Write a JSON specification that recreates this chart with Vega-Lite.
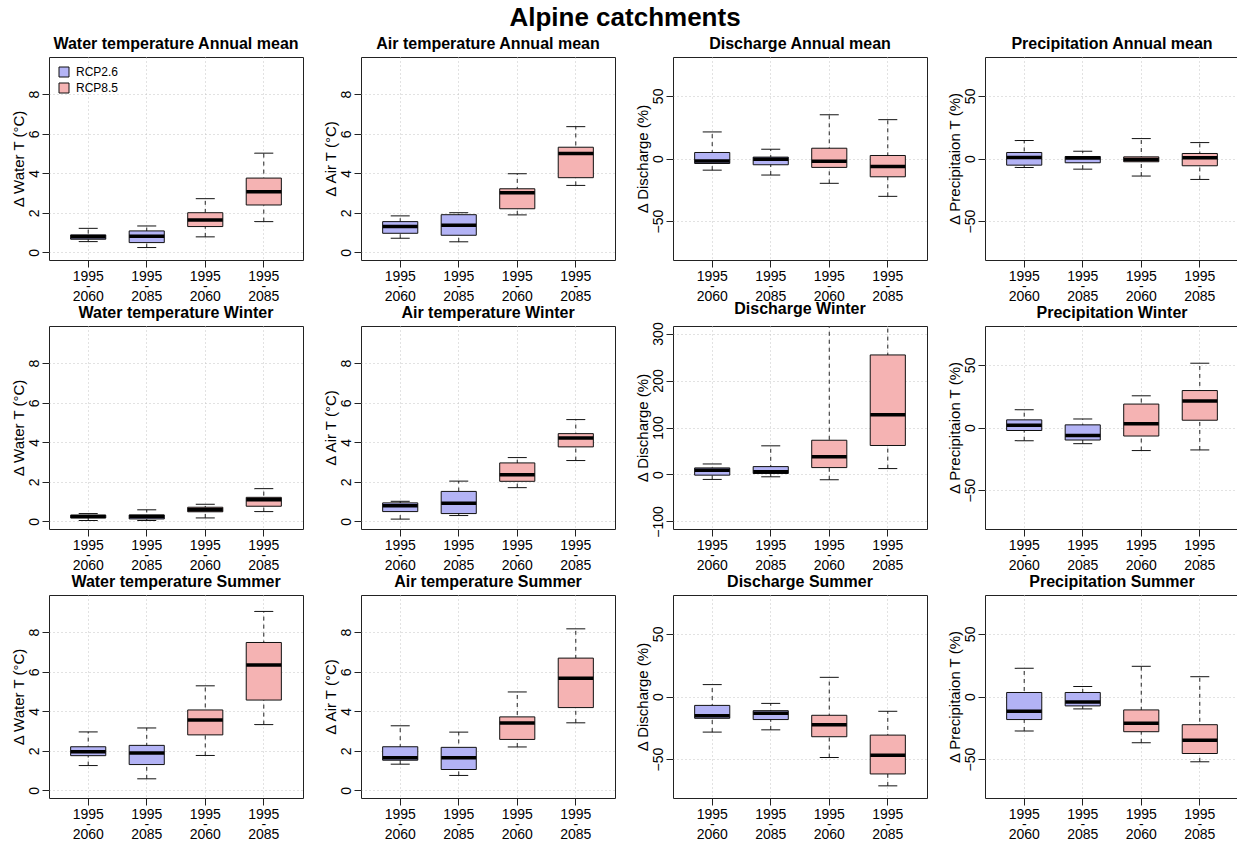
{
"$schema": "https://vega.github.io/schema/vega-lite/v6.json",
"padding": {"left": 10, "top": 4, "right": 0, "bottom": 0},
"title": {"text": "Alpine catchments", "fontSize": 26, "fontWeight": "bold", "anchor": "middle", "offset": 5},
"data": {"values": [
{"p":"Water temperature Annual mean","g":"RCP2.6 1995-2060","s":"RCP2.6","lo":0.55,"q1":0.67,"med":0.80,"q3":0.89,"hi":1.22},
{"p":"Water temperature Annual mean","g":"RCP2.6 1995-2085","s":"RCP2.6","lo":0.25,"q1":0.50,"med":0.82,"q3":1.09,"hi":1.34},
{"p":"Water temperature Annual mean","g":"RCP8.5 1995-2060","s":"RCP8.5","lo":0.79,"q1":1.31,"med":1.64,"q3":2.01,"hi":2.72},
{"p":"Water temperature Annual mean","g":"RCP8.5 1995-2085","s":"RCP8.5","lo":1.56,"q1":2.40,"med":3.07,"q3":3.76,"hi":5.02},
{"p":"Air temperature Annual mean","g":"RCP2.6 1995-2060","s":"RCP2.6","lo":0.72,"q1":0.97,"med":1.31,"q3":1.56,"hi":1.85},
{"p":"Air temperature Annual mean","g":"RCP2.6 1995-2085","s":"RCP2.6","lo":0.54,"q1":0.87,"med":1.38,"q3":1.91,"hi":2.01},
{"p":"Air temperature Annual mean","g":"RCP8.5 1995-2060","s":"RCP8.5","lo":1.90,"q1":2.21,"med":3.02,"q3":3.22,"hi":3.98},
{"p":"Air temperature Annual mean","g":"RCP8.5 1995-2085","s":"RCP8.5","lo":3.39,"q1":3.78,"med":5.00,"q3":5.32,"hi":6.36},
{"p":"Discharge Annual mean","g":"RCP2.6 1995-2060","s":"RCP2.6","lo":-9.3,"q1":-4.0,"med":-1.9,"q3":4.8,"hi":21.2},
{"p":"Discharge Annual mean","g":"RCP2.6 1995-2085","s":"RCP2.6","lo":-13.2,"q1":-5.0,"med":-0.5,"q3":1.1,"hi":7.4},
{"p":"Discharge Annual mean","g":"RCP8.5 1995-2060","s":"RCP8.5","lo":-19.8,"q1":-7.1,"med":-2.1,"q3":8.2,"hi":34.9},
{"p":"Discharge Annual mean","g":"RCP8.5 1995-2085","s":"RCP8.5","lo":-30.2,"q1":-14.6,"med":-6.3,"q3":2.4,"hi":31.0},
{"p":"Precipitation Annual mean","g":"RCP2.6 1995-2060","s":"RCP2.6","lo":-7.1,"q1":-5.3,"med":0.8,"q3":4.8,"hi":14.3},
{"p":"Precipitation Annual mean","g":"RCP2.6 1995-2085","s":"RCP2.6","lo":-8.5,"q1":-3.4,"med":0.3,"q3":1.6,"hi":5.8},
{"p":"Precipitation Annual mean","g":"RCP8.5 1995-2060","s":"RCP8.5","lo":-14.0,"q1":-2.6,"med":-0.8,"q3":1.3,"hi":15.9},
{"p":"Precipitation Annual mean","g":"RCP8.5 1995-2085","s":"RCP8.5","lo":-16.7,"q1":-5.8,"med":0.5,"q3":4.0,"hi":12.7},
{"p":"Water temperature Winter","g":"RCP2.6 1995-2060","s":"RCP2.6","lo":0.05,"q1":0.18,"med":0.25,"q3":0.32,"hi":0.40},
{"p":"Water temperature Winter","g":"RCP2.6 1995-2085","s":"RCP2.6","lo":0.05,"q1":0.13,"med":0.25,"q3":0.33,"hi":0.59},
{"p":"Water temperature Winter","g":"RCP8.5 1995-2060","s":"RCP8.5","lo":0.18,"q1":0.49,"med":0.59,"q3":0.72,"hi":0.87},
{"p":"Water temperature Winter","g":"RCP8.5 1995-2085","s":"RCP8.5","lo":0.50,"q1":0.77,"med":1.10,"q3":1.22,"hi":1.66},
{"p":"Air temperature Winter","g":"RCP2.6 1995-2060","s":"RCP2.6","lo":0.12,"q1":0.50,"med":0.80,"q3":0.94,"hi":1.02},
{"p":"Air temperature Winter","g":"RCP2.6 1995-2085","s":"RCP2.6","lo":0.30,"q1":0.40,"med":0.92,"q3":1.52,"hi":2.04},
{"p":"Air temperature Winter","g":"RCP8.5 1995-2060","s":"RCP8.5","lo":1.71,"q1":2.03,"med":2.36,"q3":2.96,"hi":3.23},
{"p":"Air temperature Winter","g":"RCP8.5 1995-2085","s":"RCP8.5","lo":3.08,"q1":3.77,"med":4.22,"q3":4.44,"hi":5.15},
{"p":"Discharge Winter","g":"RCP2.6 1995-2060","s":"RCP2.6","lo":-10.5,"q1":-1.4,"med":9.1,"q3":14.0,"hi":22.4},
{"p":"Discharge Winter","g":"RCP2.6 1995-2085","s":"RCP2.6","lo":-4.9,"q1":2.1,"med":5.6,"q3":16.8,"hi":61},
{"p":"Discharge Winter","g":"RCP8.5 1995-2060","s":"RCP8.5","lo":-11.2,"q1":14.7,"med":37.8,"q3":72.9,"hi":420},
{"p":"Discharge Winter","g":"RCP8.5 1995-2085","s":"RCP8.5","lo":12.6,"q1":61.7,"med":126.9,"q3":254.4,"hi":380},
{"p":"Precipitation Winter","g":"RCP2.6 1995-2060","s":"RCP2.6","lo":-10.5,"q1":-2.4,"med":1.8,"q3":6.1,"hi":14.2},
{"p":"Precipitation Winter","g":"RCP2.6 1995-2085","s":"RCP2.6","lo":-12.9,"q1":-10.0,"med":-6.3,"q3":2.1,"hi":6.8},
{"p":"Precipitation Winter","g":"RCP8.5 1995-2060","s":"RCP8.5","lo":-18.4,"q1":-6.8,"med":2.9,"q3":18.7,"hi":25.3},
{"p":"Precipitation Winter","g":"RCP8.5 1995-2085","s":"RCP8.5","lo":-17.9,"q1":5.8,"med":21.1,"q3":29.5,"hi":51.3},
{"p":"Water temperature Summer","g":"RCP2.6 1995-2060","s":"RCP2.6","lo":1.26,"q1":1.76,"med":1.96,"q3":2.21,"hi":2.96},
{"p":"Water temperature Summer","g":"RCP2.6 1995-2085","s":"RCP2.6","lo":0.59,"q1":1.31,"med":1.89,"q3":2.28,"hi":3.16},
{"p":"Water temperature Summer","g":"RCP8.5 1995-2060","s":"RCP8.5","lo":1.77,"q1":2.81,"med":3.56,"q3":4.07,"hi":5.29},
{"p":"Water temperature Summer","g":"RCP8.5 1995-2085","s":"RCP8.5","lo":3.33,"q1":4.57,"med":6.34,"q3":7.48,"hi":9.05},
{"p":"Air temperature Summer","g":"RCP2.6 1995-2060","s":"RCP2.6","lo":1.33,"q1":1.53,"med":1.66,"q3":2.21,"hi":3.27},
{"p":"Air temperature Summer","g":"RCP2.6 1995-2085","s":"RCP2.6","lo":0.76,"q1":1.06,"med":1.66,"q3":2.18,"hi":2.95},
{"p":"Air temperature Summer","g":"RCP8.5 1995-2060","s":"RCP8.5","lo":2.20,"q1":2.58,"med":3.41,"q3":3.72,"hi":4.98},
{"p":"Air temperature Summer","g":"RCP8.5 1995-2085","s":"RCP8.5","lo":3.42,"q1":4.19,"med":5.67,"q3":6.69,"hi":8.17},
{"p":"Discharge Summer","g":"RCP2.6 1995-2060","s":"RCP2.6","lo":-28.4,"q1":-17.4,"med":-15.3,"q3":-7.1,"hi":9.5},
{"p":"Discharge Summer","g":"RCP2.6 1995-2085","s":"RCP2.6","lo":-26.6,"q1":-18.4,"med":-13.4,"q3":-11.3,"hi":-5.5},
{"p":"Discharge Summer","g":"RCP8.5 1995-2060","s":"RCP8.5","lo":-48.7,"q1":-32.1,"med":-22.6,"q3":-15.0,"hi":15.3},
{"p":"Discharge Summer","g":"RCP8.5 1995-2085","s":"RCP8.5","lo":-71.3,"q1":-61.8,"med":-46.8,"q3":-30.8,"hi":-11.8},
{"p":"Precipitation Summer","g":"RCP2.6 1995-2060","s":"RCP2.6","lo":-27.5,"q1":-18.4,"med":-11.8,"q3":3.2,"hi":22.5},
{"p":"Precipitation Summer","g":"RCP2.6 1995-2085","s":"RCP2.6","lo":-9.9,"q1":-7.5,"med":-4.3,"q3":3.2,"hi":8.0},
{"p":"Precipitation Summer","g":"RCP8.5 1995-2060","s":"RCP8.5","lo":-36.9,"q1":-28.1,"med":-21.4,"q3":-10.7,"hi":24.1},
{"p":"Precipitation Summer","g":"RCP8.5 1995-2085","s":"RCP8.5","lo":-52.1,"q1":-45.5,"med":-35.0,"q3":-22.5,"hi":15.8}
]},
"columns": 4,
"bounds": "flush",
"spacing": {"row": 66, "column": 58},
"resolve": {"scale": {"fill": "independent"}, "legend": {"fill": "independent"}},
"concat": [
{"title": "Water temperature Annual mean", "width": 254, "height": 203,
 "transform": [{"filter": {"field": "p", "equal": "Water temperature Annual mean"}}],
 "encoding": {"x": {"field": "g", "type": "nominal", "title": null, "sort": ["RCP2.6 1995-2060","RCP2.6 1995-2085","RCP8.5 1995-2060","RCP8.5 1995-2085"], "scale": {"paddingInner": 0.4, "paddingOuter": 0.37}, "axis": {"labelExpr": "['1995', '-', slice(datum.value, -4)]"}}},
 "layer": [
  {"mark": {"type": "rule", "strokeDash": [4, 4], "color": "#222", "clip": true}, "encoding": {"y": {"field": "lo", "type": "quantitative", "scale": {"domain": [-0.38, 9.88], "nice": false, "zero": false}, "axis": {"title": "Δ Water T (°C)", "values": [0, 2, 4, 6, 8]}}, "y2": {"field": "hi"}}},
  {"mark": {"type": "tick", "size": 19, "thickness": 1, "color": "#111", "opacity": 1, "clip": true}, "encoding": {"y": {"field": "lo", "type": "quantitative", "scale": {"domain": [-0.38, 9.88], "nice": false, "zero": false}}}},
  {"mark": {"type": "tick", "size": 19, "thickness": 1, "color": "#111", "opacity": 1, "clip": true}, "encoding": {"y": {"field": "hi", "type": "quantitative", "scale": {"domain": [-0.38, 9.88], "nice": false, "zero": false}}}},
  {"mark": {"type": "bar", "stroke": "#111", "strokeWidth": 1, "opacity": 1}, "encoding": {"y": {"field": "q1", "type": "quantitative", "scale": {"domain": [-0.38, 9.88], "nice": false, "zero": false}}, "y2": {"field": "q3"}, "fill": {"field": "s", "type": "nominal", "scale": {"domain": ["RCP2.6", "RCP8.5"], "range": ["#b3b3f5", "#f5b3b3"]}, "legend": {"orient": "top-left", "title": null, "symbolType": "square", "symbolSize": 100, "symbolStrokeColor": "#111", "symbolStrokeWidth": 1, "symbolOpacity": 1, "labelFontSize": 12, "offset": 9, "padding": 0, "rowPadding": 2, "labelOffset": 6}}}},
  {"mark": {"type": "tick", "size": 35, "thickness": 3.5, "color": "#000", "opacity": 1}, "encoding": {"y": {"field": "med", "type": "quantitative", "scale": {"domain": [-0.38, 9.88], "nice": false, "zero": false}}}}
 ]},
{"title": "Air temperature Annual mean", "width": 254, "height": 203,
 "transform": [{"filter": {"field": "p", "equal": "Air temperature Annual mean"}}],
 "encoding": {"x": {"field": "g", "type": "nominal", "title": null, "sort": ["RCP2.6 1995-2060","RCP2.6 1995-2085","RCP8.5 1995-2060","RCP8.5 1995-2085"], "scale": {"paddingInner": 0.4, "paddingOuter": 0.37}, "axis": {"labelExpr": "['1995', '-', slice(datum.value, -4)]"}}},
 "layer": [
  {"mark": {"type": "rule", "strokeDash": [4, 4], "color": "#222", "clip": true}, "encoding": {"y": {"field": "lo", "type": "quantitative", "scale": {"domain": [-0.38, 9.88], "nice": false, "zero": false}, "axis": {"title": "Δ Air T (°C)", "values": [0, 2, 4, 6, 8]}}, "y2": {"field": "hi"}}},
  {"mark": {"type": "tick", "size": 19, "thickness": 1, "color": "#111", "opacity": 1, "clip": true}, "encoding": {"y": {"field": "lo", "type": "quantitative", "scale": {"domain": [-0.38, 9.88], "nice": false, "zero": false}}}},
  {"mark": {"type": "tick", "size": 19, "thickness": 1, "color": "#111", "opacity": 1, "clip": true}, "encoding": {"y": {"field": "hi", "type": "quantitative", "scale": {"domain": [-0.38, 9.88], "nice": false, "zero": false}}}},
  {"mark": {"type": "bar", "stroke": "#111", "strokeWidth": 1, "opacity": 1}, "encoding": {"y": {"field": "q1", "type": "quantitative", "scale": {"domain": [-0.38, 9.88], "nice": false, "zero": false}}, "y2": {"field": "q3"}, "fill": {"field": "s", "type": "nominal", "scale": {"domain": ["RCP2.6", "RCP8.5"], "range": ["#b3b3f5", "#f5b3b3"]}, "legend": null}}},
  {"mark": {"type": "tick", "size": 35, "thickness": 3.5, "color": "#000", "opacity": 1}, "encoding": {"y": {"field": "med", "type": "quantitative", "scale": {"domain": [-0.38, 9.88], "nice": false, "zero": false}}}}
 ]},
{"title": "Discharge Annual mean", "width": 254, "height": 203,
 "transform": [{"filter": {"field": "p", "equal": "Discharge Annual mean"}}],
 "encoding": {"x": {"field": "g", "type": "nominal", "title": null, "sort": ["RCP2.6 1995-2060","RCP2.6 1995-2085","RCP8.5 1995-2060","RCP8.5 1995-2085"], "scale": {"paddingInner": 0.4, "paddingOuter": 0.37}, "axis": {"labelExpr": "['1995', '-', slice(datum.value, -4)]"}}},
 "layer": [
  {"mark": {"type": "rule", "strokeDash": [4, 4], "color": "#222", "clip": true}, "encoding": {"y": {"field": "lo", "type": "quantitative", "scale": {"domain": [-81, 81], "nice": false, "zero": false}, "axis": {"title": "Δ Discharge (%)", "values": [-50, 0, 50]}}, "y2": {"field": "hi"}}},
  {"mark": {"type": "tick", "size": 19, "thickness": 1, "color": "#111", "opacity": 1, "clip": true}, "encoding": {"y": {"field": "lo", "type": "quantitative", "scale": {"domain": [-81, 81], "nice": false, "zero": false}}}},
  {"mark": {"type": "tick", "size": 19, "thickness": 1, "color": "#111", "opacity": 1, "clip": true}, "encoding": {"y": {"field": "hi", "type": "quantitative", "scale": {"domain": [-81, 81], "nice": false, "zero": false}}}},
  {"mark": {"type": "bar", "stroke": "#111", "strokeWidth": 1, "opacity": 1}, "encoding": {"y": {"field": "q1", "type": "quantitative", "scale": {"domain": [-81, 81], "nice": false, "zero": false}}, "y2": {"field": "q3"}, "fill": {"field": "s", "type": "nominal", "scale": {"domain": ["RCP2.6", "RCP8.5"], "range": ["#b3b3f5", "#f5b3b3"]}, "legend": null}}},
  {"mark": {"type": "rule", "color": "#222", "strokeWidth": 1.2}, "encoding": {"y": {"datum": 0, "type": "quantitative", "scale": {"domain": [-81, 81], "nice": false, "zero": false}}}},
  {"mark": {"type": "tick", "size": 35, "thickness": 3.5, "color": "#000", "opacity": 1}, "encoding": {"y": {"field": "med", "type": "quantitative", "scale": {"domain": [-81, 81], "nice": false, "zero": false}}}}
 ]},
{"title": "Precipitation Annual mean", "width": 254, "height": 203,
 "transform": [{"filter": {"field": "p", "equal": "Precipitation Annual mean"}}],
 "encoding": {"x": {"field": "g", "type": "nominal", "title": null, "sort": ["RCP2.6 1995-2060","RCP2.6 1995-2085","RCP8.5 1995-2060","RCP8.5 1995-2085"], "scale": {"paddingInner": 0.4, "paddingOuter": 0.37}, "axis": {"labelExpr": "['1995', '-', slice(datum.value, -4)]"}}},
 "layer": [
  {"mark": {"type": "rule", "strokeDash": [4, 4], "color": "#222", "clip": true}, "encoding": {"y": {"field": "lo", "type": "quantitative", "scale": {"domain": [-81, 81], "nice": false, "zero": false}, "axis": {"title": "Δ Precipitaion T (%)", "values": [-50, 0, 50]}}, "y2": {"field": "hi"}}},
  {"mark": {"type": "tick", "size": 19, "thickness": 1, "color": "#111", "opacity": 1, "clip": true}, "encoding": {"y": {"field": "lo", "type": "quantitative", "scale": {"domain": [-81, 81], "nice": false, "zero": false}}}},
  {"mark": {"type": "tick", "size": 19, "thickness": 1, "color": "#111", "opacity": 1, "clip": true}, "encoding": {"y": {"field": "hi", "type": "quantitative", "scale": {"domain": [-81, 81], "nice": false, "zero": false}}}},
  {"mark": {"type": "bar", "stroke": "#111", "strokeWidth": 1, "opacity": 1}, "encoding": {"y": {"field": "q1", "type": "quantitative", "scale": {"domain": [-81, 81], "nice": false, "zero": false}}, "y2": {"field": "q3"}, "fill": {"field": "s", "type": "nominal", "scale": {"domain": ["RCP2.6", "RCP8.5"], "range": ["#b3b3f5", "#f5b3b3"]}, "legend": null}}},
  {"mark": {"type": "rule", "color": "#222", "strokeWidth": 1.2}, "encoding": {"y": {"datum": 0, "type": "quantitative", "scale": {"domain": [-81, 81], "nice": false, "zero": false}}}},
  {"mark": {"type": "tick", "size": 35, "thickness": 3.5, "color": "#000", "opacity": 1}, "encoding": {"y": {"field": "med", "type": "quantitative", "scale": {"domain": [-81, 81], "nice": false, "zero": false}}}}
 ]},
{"title": "Water temperature Winter", "width": 254, "height": 203,
 "transform": [{"filter": {"field": "p", "equal": "Water temperature Winter"}}],
 "encoding": {"x": {"field": "g", "type": "nominal", "title": null, "sort": ["RCP2.6 1995-2060","RCP2.6 1995-2085","RCP8.5 1995-2060","RCP8.5 1995-2085"], "scale": {"paddingInner": 0.4, "paddingOuter": 0.37}, "axis": {"labelExpr": "['1995', '-', slice(datum.value, -4)]"}}},
 "layer": [
  {"mark": {"type": "rule", "strokeDash": [4, 4], "color": "#222", "clip": true}, "encoding": {"y": {"field": "lo", "type": "quantitative", "scale": {"domain": [-0.38, 9.88], "nice": false, "zero": false}, "axis": {"title": "Δ Water T (°C)", "values": [0, 2, 4, 6, 8]}}, "y2": {"field": "hi"}}},
  {"mark": {"type": "tick", "size": 19, "thickness": 1, "color": "#111", "opacity": 1, "clip": true}, "encoding": {"y": {"field": "lo", "type": "quantitative", "scale": {"domain": [-0.38, 9.88], "nice": false, "zero": false}}}},
  {"mark": {"type": "tick", "size": 19, "thickness": 1, "color": "#111", "opacity": 1, "clip": true}, "encoding": {"y": {"field": "hi", "type": "quantitative", "scale": {"domain": [-0.38, 9.88], "nice": false, "zero": false}}}},
  {"mark": {"type": "bar", "stroke": "#111", "strokeWidth": 1, "opacity": 1}, "encoding": {"y": {"field": "q1", "type": "quantitative", "scale": {"domain": [-0.38, 9.88], "nice": false, "zero": false}}, "y2": {"field": "q3"}, "fill": {"field": "s", "type": "nominal", "scale": {"domain": ["RCP2.6", "RCP8.5"], "range": ["#b3b3f5", "#f5b3b3"]}, "legend": null}}},
  {"mark": {"type": "tick", "size": 35, "thickness": 3.5, "color": "#000", "opacity": 1}, "encoding": {"y": {"field": "med", "type": "quantitative", "scale": {"domain": [-0.38, 9.88], "nice": false, "zero": false}}}}
 ]},
{"title": "Air temperature Winter", "width": 254, "height": 203,
 "transform": [{"filter": {"field": "p", "equal": "Air temperature Winter"}}],
 "encoding": {"x": {"field": "g", "type": "nominal", "title": null, "sort": ["RCP2.6 1995-2060","RCP2.6 1995-2085","RCP8.5 1995-2060","RCP8.5 1995-2085"], "scale": {"paddingInner": 0.4, "paddingOuter": 0.37}, "axis": {"labelExpr": "['1995', '-', slice(datum.value, -4)]"}}},
 "layer": [
  {"mark": {"type": "rule", "strokeDash": [4, 4], "color": "#222", "clip": true}, "encoding": {"y": {"field": "lo", "type": "quantitative", "scale": {"domain": [-0.38, 9.88], "nice": false, "zero": false}, "axis": {"title": "Δ Air T (°C)", "values": [0, 2, 4, 6, 8]}}, "y2": {"field": "hi"}}},
  {"mark": {"type": "tick", "size": 19, "thickness": 1, "color": "#111", "opacity": 1, "clip": true}, "encoding": {"y": {"field": "lo", "type": "quantitative", "scale": {"domain": [-0.38, 9.88], "nice": false, "zero": false}}}},
  {"mark": {"type": "tick", "size": 19, "thickness": 1, "color": "#111", "opacity": 1, "clip": true}, "encoding": {"y": {"field": "hi", "type": "quantitative", "scale": {"domain": [-0.38, 9.88], "nice": false, "zero": false}}}},
  {"mark": {"type": "bar", "stroke": "#111", "strokeWidth": 1, "opacity": 1}, "encoding": {"y": {"field": "q1", "type": "quantitative", "scale": {"domain": [-0.38, 9.88], "nice": false, "zero": false}}, "y2": {"field": "q3"}, "fill": {"field": "s", "type": "nominal", "scale": {"domain": ["RCP2.6", "RCP8.5"], "range": ["#b3b3f5", "#f5b3b3"]}, "legend": null}}},
  {"mark": {"type": "tick", "size": 35, "thickness": 3.5, "color": "#000", "opacity": 1}, "encoding": {"y": {"field": "med", "type": "quantitative", "scale": {"domain": [-0.38, 9.88], "nice": false, "zero": false}}}}
 ]},
{"title": "Discharge Winter", "width": 254, "height": 203,
 "transform": [{"filter": {"field": "p", "equal": "Discharge Winter"}}],
 "encoding": {"x": {"field": "g", "type": "nominal", "title": null, "sort": ["RCP2.6 1995-2060","RCP2.6 1995-2085","RCP8.5 1995-2060","RCP8.5 1995-2085"], "scale": {"paddingInner": 0.4, "paddingOuter": 0.37}, "axis": {"labelExpr": "['1995', '-', slice(datum.value, -4)]"}}},
 "layer": [
  {"mark": {"type": "rule", "strokeDash": [4, 4], "color": "#222", "clip": true}, "encoding": {"y": {"field": "lo", "type": "quantitative", "scale": {"domain": [-116, 316], "nice": false, "zero": false}, "axis": {"title": "Δ Discharge (%)", "values": [-100, 0, 100, 200, 300]}}, "y2": {"field": "hi"}}},
  {"mark": {"type": "tick", "size": 19, "thickness": 1, "color": "#111", "opacity": 1, "clip": true}, "encoding": {"y": {"field": "lo", "type": "quantitative", "scale": {"domain": [-116, 316], "nice": false, "zero": false}}}},
  {"mark": {"type": "tick", "size": 19, "thickness": 1, "color": "#111", "opacity": 1, "clip": true}, "encoding": {"y": {"field": "hi", "type": "quantitative", "scale": {"domain": [-116, 316], "nice": false, "zero": false}}}},
  {"mark": {"type": "bar", "stroke": "#111", "strokeWidth": 1, "opacity": 1}, "encoding": {"y": {"field": "q1", "type": "quantitative", "scale": {"domain": [-116, 316], "nice": false, "zero": false}}, "y2": {"field": "q3"}, "fill": {"field": "s", "type": "nominal", "scale": {"domain": ["RCP2.6", "RCP8.5"], "range": ["#b3b3f5", "#f5b3b3"]}, "legend": null}}},
  {"mark": {"type": "rule", "color": "#222", "strokeWidth": 1.2}, "encoding": {"y": {"datum": 0, "type": "quantitative", "scale": {"domain": [-116, 316], "nice": false, "zero": false}}}},
  {"mark": {"type": "tick", "size": 35, "thickness": 3.5, "color": "#000", "opacity": 1}, "encoding": {"y": {"field": "med", "type": "quantitative", "scale": {"domain": [-116, 316], "nice": false, "zero": false}}}}
 ]},
{"title": "Precipitation Winter", "width": 254, "height": 203,
 "transform": [{"filter": {"field": "p", "equal": "Precipitation Winter"}}],
 "encoding": {"x": {"field": "g", "type": "nominal", "title": null, "sort": ["RCP2.6 1995-2060","RCP2.6 1995-2085","RCP8.5 1995-2060","RCP8.5 1995-2085"], "scale": {"paddingInner": 0.4, "paddingOuter": 0.37}, "axis": {"labelExpr": "['1995', '-', slice(datum.value, -4)]"}}},
 "layer": [
  {"mark": {"type": "rule", "strokeDash": [4, 4], "color": "#222", "clip": true}, "encoding": {"y": {"field": "lo", "type": "quantitative", "scale": {"domain": [-81, 81], "nice": false, "zero": false}, "axis": {"title": "Δ Precipitaion T (%)", "values": [-50, 0, 50]}}, "y2": {"field": "hi"}}},
  {"mark": {"type": "tick", "size": 19, "thickness": 1, "color": "#111", "opacity": 1, "clip": true}, "encoding": {"y": {"field": "lo", "type": "quantitative", "scale": {"domain": [-81, 81], "nice": false, "zero": false}}}},
  {"mark": {"type": "tick", "size": 19, "thickness": 1, "color": "#111", "opacity": 1, "clip": true}, "encoding": {"y": {"field": "hi", "type": "quantitative", "scale": {"domain": [-81, 81], "nice": false, "zero": false}}}},
  {"mark": {"type": "bar", "stroke": "#111", "strokeWidth": 1, "opacity": 1}, "encoding": {"y": {"field": "q1", "type": "quantitative", "scale": {"domain": [-81, 81], "nice": false, "zero": false}}, "y2": {"field": "q3"}, "fill": {"field": "s", "type": "nominal", "scale": {"domain": ["RCP2.6", "RCP8.5"], "range": ["#b3b3f5", "#f5b3b3"]}, "legend": null}}},
  {"mark": {"type": "rule", "color": "#222", "strokeWidth": 1.2}, "encoding": {"y": {"datum": 0, "type": "quantitative", "scale": {"domain": [-81, 81], "nice": false, "zero": false}}}},
  {"mark": {"type": "tick", "size": 35, "thickness": 3.5, "color": "#000", "opacity": 1}, "encoding": {"y": {"field": "med", "type": "quantitative", "scale": {"domain": [-81, 81], "nice": false, "zero": false}}}}
 ]},
{"title": "Water temperature Summer", "width": 254, "height": 203,
 "transform": [{"filter": {"field": "p", "equal": "Water temperature Summer"}}],
 "encoding": {"x": {"field": "g", "type": "nominal", "title": null, "sort": ["RCP2.6 1995-2060","RCP2.6 1995-2085","RCP8.5 1995-2060","RCP8.5 1995-2085"], "scale": {"paddingInner": 0.4, "paddingOuter": 0.37}, "axis": {"labelExpr": "['1995', '-', slice(datum.value, -4)]"}}},
 "layer": [
  {"mark": {"type": "rule", "strokeDash": [4, 4], "color": "#222", "clip": true}, "encoding": {"y": {"field": "lo", "type": "quantitative", "scale": {"domain": [-0.38, 9.88], "nice": false, "zero": false}, "axis": {"title": "Δ Water T (°C)", "values": [0, 2, 4, 6, 8]}}, "y2": {"field": "hi"}}},
  {"mark": {"type": "tick", "size": 19, "thickness": 1, "color": "#111", "opacity": 1, "clip": true}, "encoding": {"y": {"field": "lo", "type": "quantitative", "scale": {"domain": [-0.38, 9.88], "nice": false, "zero": false}}}},
  {"mark": {"type": "tick", "size": 19, "thickness": 1, "color": "#111", "opacity": 1, "clip": true}, "encoding": {"y": {"field": "hi", "type": "quantitative", "scale": {"domain": [-0.38, 9.88], "nice": false, "zero": false}}}},
  {"mark": {"type": "bar", "stroke": "#111", "strokeWidth": 1, "opacity": 1}, "encoding": {"y": {"field": "q1", "type": "quantitative", "scale": {"domain": [-0.38, 9.88], "nice": false, "zero": false}}, "y2": {"field": "q3"}, "fill": {"field": "s", "type": "nominal", "scale": {"domain": ["RCP2.6", "RCP8.5"], "range": ["#b3b3f5", "#f5b3b3"]}, "legend": null}}},
  {"mark": {"type": "tick", "size": 35, "thickness": 3.5, "color": "#000", "opacity": 1}, "encoding": {"y": {"field": "med", "type": "quantitative", "scale": {"domain": [-0.38, 9.88], "nice": false, "zero": false}}}}
 ]},
{"title": "Air temperature Summer", "width": 254, "height": 203,
 "transform": [{"filter": {"field": "p", "equal": "Air temperature Summer"}}],
 "encoding": {"x": {"field": "g", "type": "nominal", "title": null, "sort": ["RCP2.6 1995-2060","RCP2.6 1995-2085","RCP8.5 1995-2060","RCP8.5 1995-2085"], "scale": {"paddingInner": 0.4, "paddingOuter": 0.37}, "axis": {"labelExpr": "['1995', '-', slice(datum.value, -4)]"}}},
 "layer": [
  {"mark": {"type": "rule", "strokeDash": [4, 4], "color": "#222", "clip": true}, "encoding": {"y": {"field": "lo", "type": "quantitative", "scale": {"domain": [-0.38, 9.88], "nice": false, "zero": false}, "axis": {"title": "Δ Air T (°C)", "values": [0, 2, 4, 6, 8]}}, "y2": {"field": "hi"}}},
  {"mark": {"type": "tick", "size": 19, "thickness": 1, "color": "#111", "opacity": 1, "clip": true}, "encoding": {"y": {"field": "lo", "type": "quantitative", "scale": {"domain": [-0.38, 9.88], "nice": false, "zero": false}}}},
  {"mark": {"type": "tick", "size": 19, "thickness": 1, "color": "#111", "opacity": 1, "clip": true}, "encoding": {"y": {"field": "hi", "type": "quantitative", "scale": {"domain": [-0.38, 9.88], "nice": false, "zero": false}}}},
  {"mark": {"type": "bar", "stroke": "#111", "strokeWidth": 1, "opacity": 1}, "encoding": {"y": {"field": "q1", "type": "quantitative", "scale": {"domain": [-0.38, 9.88], "nice": false, "zero": false}}, "y2": {"field": "q3"}, "fill": {"field": "s", "type": "nominal", "scale": {"domain": ["RCP2.6", "RCP8.5"], "range": ["#b3b3f5", "#f5b3b3"]}, "legend": null}}},
  {"mark": {"type": "tick", "size": 35, "thickness": 3.5, "color": "#000", "opacity": 1}, "encoding": {"y": {"field": "med", "type": "quantitative", "scale": {"domain": [-0.38, 9.88], "nice": false, "zero": false}}}}
 ]},
{"title": "Discharge Summer", "width": 254, "height": 203,
 "transform": [{"filter": {"field": "p", "equal": "Discharge Summer"}}],
 "encoding": {"x": {"field": "g", "type": "nominal", "title": null, "sort": ["RCP2.6 1995-2060","RCP2.6 1995-2085","RCP8.5 1995-2060","RCP8.5 1995-2085"], "scale": {"paddingInner": 0.4, "paddingOuter": 0.37}, "axis": {"labelExpr": "['1995', '-', slice(datum.value, -4)]"}}},
 "layer": [
  {"mark": {"type": "rule", "strokeDash": [4, 4], "color": "#222", "clip": true}, "encoding": {"y": {"field": "lo", "type": "quantitative", "scale": {"domain": [-81, 81], "nice": false, "zero": false}, "axis": {"title": "Δ Discharge (%)", "values": [-50, 0, 50]}}, "y2": {"field": "hi"}}},
  {"mark": {"type": "tick", "size": 19, "thickness": 1, "color": "#111", "opacity": 1, "clip": true}, "encoding": {"y": {"field": "lo", "type": "quantitative", "scale": {"domain": [-81, 81], "nice": false, "zero": false}}}},
  {"mark": {"type": "tick", "size": 19, "thickness": 1, "color": "#111", "opacity": 1, "clip": true}, "encoding": {"y": {"field": "hi", "type": "quantitative", "scale": {"domain": [-81, 81], "nice": false, "zero": false}}}},
  {"mark": {"type": "bar", "stroke": "#111", "strokeWidth": 1, "opacity": 1}, "encoding": {"y": {"field": "q1", "type": "quantitative", "scale": {"domain": [-81, 81], "nice": false, "zero": false}}, "y2": {"field": "q3"}, "fill": {"field": "s", "type": "nominal", "scale": {"domain": ["RCP2.6", "RCP8.5"], "range": ["#b3b3f5", "#f5b3b3"]}, "legend": null}}},
  {"mark": {"type": "rule", "color": "#222", "strokeWidth": 1.2}, "encoding": {"y": {"datum": 0, "type": "quantitative", "scale": {"domain": [-81, 81], "nice": false, "zero": false}}}},
  {"mark": {"type": "tick", "size": 35, "thickness": 3.5, "color": "#000", "opacity": 1}, "encoding": {"y": {"field": "med", "type": "quantitative", "scale": {"domain": [-81, 81], "nice": false, "zero": false}}}}
 ]},
{"title": "Precipitation Summer", "width": 254, "height": 203,
 "transform": [{"filter": {"field": "p", "equal": "Precipitation Summer"}}],
 "encoding": {"x": {"field": "g", "type": "nominal", "title": null, "sort": ["RCP2.6 1995-2060","RCP2.6 1995-2085","RCP8.5 1995-2060","RCP8.5 1995-2085"], "scale": {"paddingInner": 0.4, "paddingOuter": 0.37}, "axis": {"labelExpr": "['1995', '-', slice(datum.value, -4)]"}}},
 "layer": [
  {"mark": {"type": "rule", "strokeDash": [4, 4], "color": "#222", "clip": true}, "encoding": {"y": {"field": "lo", "type": "quantitative", "scale": {"domain": [-81, 81], "nice": false, "zero": false}, "axis": {"title": "Δ Precipitaion T (%)", "values": [-50, 0, 50]}}, "y2": {"field": "hi"}}},
  {"mark": {"type": "tick", "size": 19, "thickness": 1, "color": "#111", "opacity": 1, "clip": true}, "encoding": {"y": {"field": "lo", "type": "quantitative", "scale": {"domain": [-81, 81], "nice": false, "zero": false}}}},
  {"mark": {"type": "tick", "size": 19, "thickness": 1, "color": "#111", "opacity": 1, "clip": true}, "encoding": {"y": {"field": "hi", "type": "quantitative", "scale": {"domain": [-81, 81], "nice": false, "zero": false}}}},
  {"mark": {"type": "bar", "stroke": "#111", "strokeWidth": 1, "opacity": 1}, "encoding": {"y": {"field": "q1", "type": "quantitative", "scale": {"domain": [-81, 81], "nice": false, "zero": false}}, "y2": {"field": "q3"}, "fill": {"field": "s", "type": "nominal", "scale": {"domain": ["RCP2.6", "RCP8.5"], "range": ["#b3b3f5", "#f5b3b3"]}, "legend": null}}},
  {"mark": {"type": "rule", "color": "#222", "strokeWidth": 1.2}, "encoding": {"y": {"datum": 0, "type": "quantitative", "scale": {"domain": [-81, 81], "nice": false, "zero": false}}}},
  {"mark": {"type": "tick", "size": 35, "thickness": 3.5, "color": "#000", "opacity": 1}, "encoding": {"y": {"field": "med", "type": "quantitative", "scale": {"domain": [-81, 81], "nice": false, "zero": false}}}}
 ]}
],
"config": {
 "font": "Liberation Sans",
 "view": {"stroke": "#222", "strokeWidth": 1},
 "axis": {"domain": false, "tickColor": "#222", "labelColor": "#000", "titleColor": "#000", "labelFontSize": 14, "titleFontSize": 15, "titleFontWeight": "normal", "grid": true, "gridDash": [1, 3], "gridColor": "#c4c4c4", "labelOverlap": false, "labelFlush": false},
 "axisX": {"tickSize": 7, "labelPadding": 2, "labelAngle": 0, "labelLineHeight": 10, "labelBaseline": "top", "bandPosition": 0.5},
 "axisY": {"labelAngle": 270, "labelAlign": "center", "labelBaseline": "alphabetic", "labelPadding": 4, "tickSize": 7, "minExtent": 19, "maxExtent": 19, "titlePadding": 4},
 "title": {"fontSize": 16, "fontWeight": "bold", "offset": 5, "color": "#000"},
 "legend": {"labelColor": "#000"}
}
}
